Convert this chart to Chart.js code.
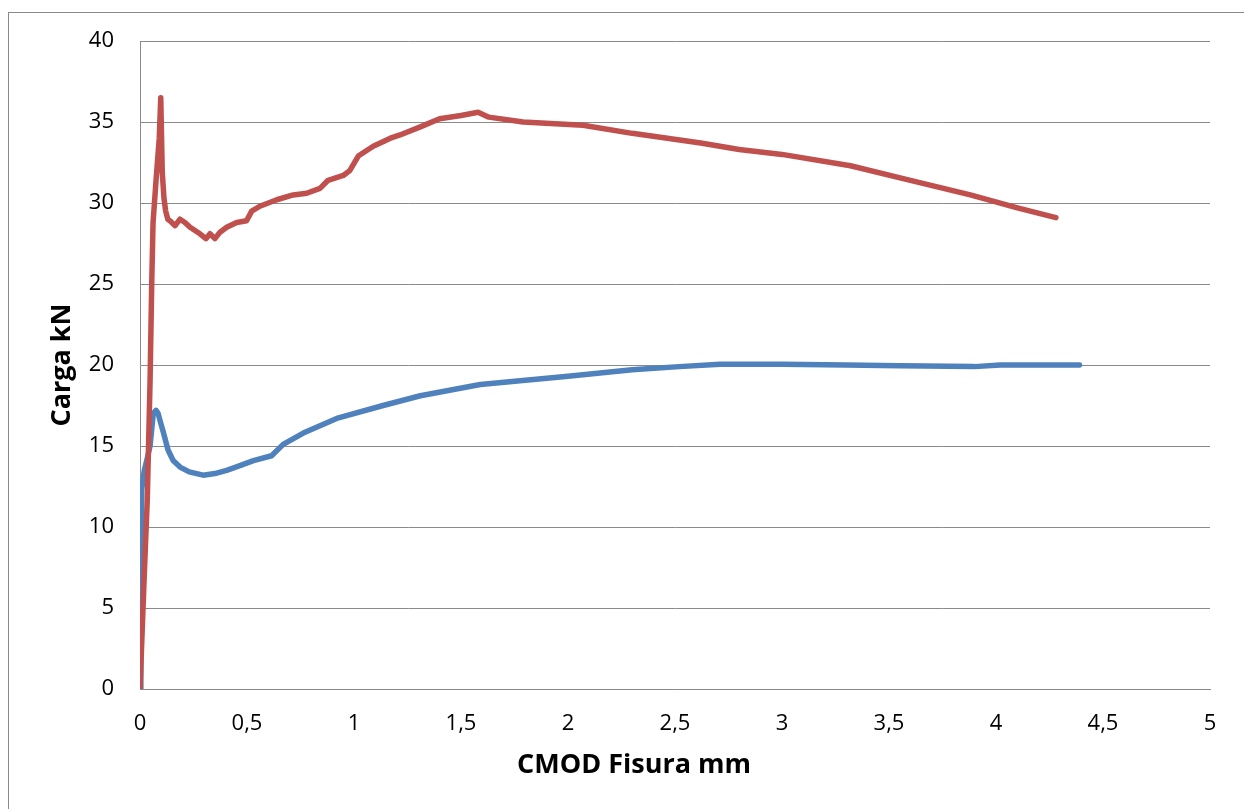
<!DOCTYPE html>
<html>
<head>
<meta charset="utf-8">
<script src="https://cdn.jsdelivr.net/npm/chart.js@4.4.1/dist/chart.umd.min.js"></script>
<style>
    html, body {
        margin: 0;
        padding: 0;
        background: #fff;
        overflow: hidden;
    }
    #frame {
        position: absolute;
        left: 8px;
        top: 12px;
        width: 1250px;
        height: 800px;
        border: 1px solid #8a8a8a;
    }
</style>
</head>
<body>
<div id="frame">
    <canvas id="mainChart" width="1250" height="800"></canvas>
</div>
<script>
// CMOD (mm) vs carga (kN), dos probetas
const cmodRed = [0, 0.019, 0.034, 0.047, 0.055, 0.061, 0.075, 0.09, 0.097, 0.104, 0.112, 0.12, 0.13, 0.14, 0.164, 0.187, 0.21, 0.234, 0.28, 0.308, 0.327, 0.35, 0.374, 0.405, 0.452, 0.498, 0.522, 0.56, 0.639, 0.716, 0.779, 0.841, 0.879, 0.95, 0.98, 1.02, 1.09, 1.17, 1.215, 1.31, 1.4, 1.5, 1.58, 1.63, 1.79, 2.07, 2.3, 2.62, 2.8, 3.0, 3.32, 3.6, 3.88, 4.1, 4.28];
const loadRed = [0, 6.7, 11.7, 19, 25.2, 28.8, 31.4, 34, 36.5, 31.9, 30.3, 29.5, 29.0, 28.9, 28.6, 29.0, 28.8, 28.5, 28.1, 27.8, 28.1, 27.8, 28.2, 28.5, 28.8, 28.9, 29.5, 29.8, 30.2, 30.5, 30.6, 30.9, 31.4, 31.7, 32.0, 32.9, 33.5, 34.0, 34.2, 34.7, 35.2, 35.4, 35.6, 35.3, 35.0, 34.8, 34.3, 33.7, 33.3, 33.0, 32.3, 31.4, 30.5, 29.7, 29.1];

const cmodBlue = [0, 0.004, 0.008, 0.02, 0.035, 0.047, 0.062, 0.075, 0.085, 0.093, 0.11, 0.131, 0.155, 0.187, 0.23, 0.295, 0.35, 0.405, 0.47, 0.53, 0.615, 0.669, 0.763, 0.919, 1.136, 1.31, 1.59, 2.0, 2.3, 2.52, 2.71, 3.0, 3.3, 3.55, 3.9, 4.02, 4.2, 4.39];
const loadBlue = [0, 7, 12.3, 13.5, 14.3, 15.0, 17.0, 17.2, 17.0, 16.6, 15.8, 14.75, 14.1, 13.7, 13.4, 13.2, 13.3, 13.5, 13.8, 14.1, 14.4, 15.1, 15.8, 16.7, 17.5, 18.1, 18.8, 19.3, 19.7, 19.9, 20.05, 20.05, 20.0, 19.95, 19.9, 20.0, 20.0, 20.0];

const xTickLabels = ['0', '0,5', '1', '1,5', '2', '2,5', '3', '3,5', '4', '4,5', '5'];
const yTickLabels = ['0', '5', '10', '15', '20', '25', '30', '35', '40'];

const xTitle = 'CMOD Fisura mm';
const yTitle = 'Carga kN';

function toPoints(xs, ys) {
    return xs.map((x, i) => ({x: x, y: ys[i]}));
}

const gridColor = '#8a8a8a';
const tickFont = {family: '"Open Sans", sans-serif', size: 22};
const titleFont = {family: '"Open Sans", sans-serif', size: 27, weight: 'bold'};

Chart.defaults.color = '#000';

// x title is centred on the whole canvas, not on the plot area
const xTitlePlugin = {
    id: 'xTitle',
    afterDraw(chart) {
        const ctx = chart.ctx;
        ctx.save();
        ctx.font = `bold ${titleFont.size}px ${titleFont.family}`;
        ctx.fillStyle = '#000';
        ctx.textAlign = 'center';
        ctx.textBaseline = 'middle';
        ctx.fillText(xTitle, chart.width / 2, chart.chartArea.bottom + 76);
        ctx.restore();
    }
};

new Chart(document.getElementById('mainChart').getContext('2d'), {
    type: 'line',
    data: {
        datasets: [{
            data: toPoints(cmodRed, loadRed),
            borderColor: '#c0504d',
            borderWidth: 5.5,
            pointRadius: 0,
            tension: 0,
            borderJoinStyle: 'round',
            borderCapStyle: 'round'
        }, {
            data: toPoints(cmodBlue, loadBlue),
            borderColor: '#4f81bd',
            borderWidth: 5.5,
            pointRadius: 0,
            tension: 0,
            borderJoinStyle: 'round',
            borderCapStyle: 'round'
        }]
    },
    options: {
        responsive: false,
        animation: false,
        events: [],
        layout: {
            padding: {left: 0, top: 28, right: 49, bottom: 76}
        },
        plugins: {
            legend: {display: false},
            tooltip: {enabled: false}
        },
        scales: {
            x: {
                type: 'linear',
                min: 0,
                max: 5,
                grid: {display: false, drawTicks: false},
                border: {display: true, color: gridColor, width: 1},
                ticks: {
                    stepSize: 0.5,
                    padding: 22,
                    font: tickFont,
                    maxRotation: 0,
                    callback: (v, i) => xTickLabels[i]
                },
                afterFit: (s) => {
                    s.height = 48;
                    s.paddingLeft = 0;
                    s.paddingRight = 0;
                }
            },
            y: {
                min: 0,
                max: 40,
                grid: {color: gridColor, lineWidth: 1, drawTicks: false},
                border: {display: true, color: gridColor, width: 1},
                ticks: {
                    stepSize: 5,
                    padding: 26,
                    font: tickFont,
                    callback: (v, i) => yTickLabels[i]
                },
                title: {
                    display: true,
                    text: yTitle,
                    font: titleFont,
                    padding: {top: 37, bottom: 0}
                },
                afterFit: (s) => {
                    s.width = 131;
                    s.paddingTop = 0;
                    s.paddingBottom = 0;
                }
            }
        }
    },
    plugins: [xTitlePlugin]
});
</script>
</body>
</html>
